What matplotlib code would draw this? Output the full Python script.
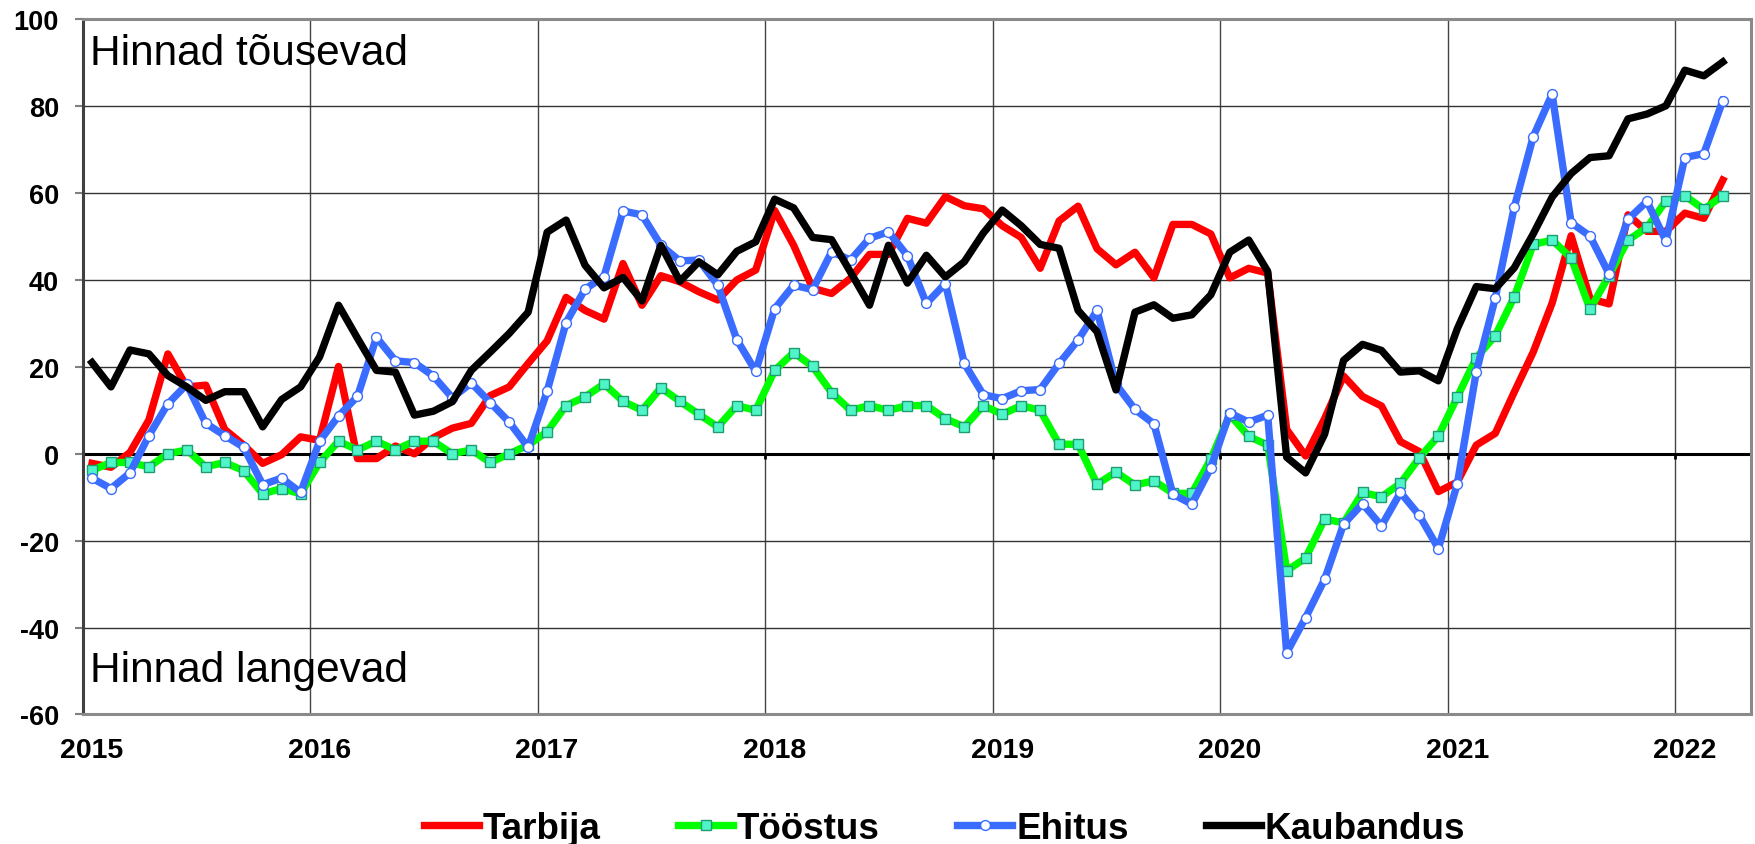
import numpy as np
import matplotlib
matplotlib.use("Agg")
import matplotlib.pyplot as plt

plt.rcParams['font.family'] = ['Liberation Sans', 'DejaVu Sans']
plt.rcParams['axes.unicode_minus'] = False

# monthly values, Jan 2015 - Mar 2022
tarbija = [-2.2, -3.1, 0.3, 7.8, 23, 15.4, 15.8, 5.6, 2, -2.2, -0.2, 3.9,
           3.1, 20.1, -1.1, -1.1, 1.8, 0, 3.7, 5.9, 7, 13.4, 15.4, 20.8,
           26, 36, 33, 31, 43.8, 34.2, 41, 39.6, 37.3, 35.4, 40, 42.3,
           56, 48, 38.1, 36.9, 40.4, 45.9, 45.9, 54.2, 53.1, 59.2, 57.1, 56.4,
           52.5, 49.8, 42.7, 53.6, 57, 47.2, 43.5, 46.4, 40.5, 52.8, 52.8, 50.6,
           40.5, 42.7, 41.6, 5.6, -0.5, 8.1, 17.9, 13.2, 11, 2.8, 0.5, -8.7,
           -6.5, 2, 4.7, 14.2, 23.4, 34.7, 50.2, 35.7, 34.5, 55, 51.2, 51.2,
           55.4, 54.2, 63]

toostus = [-3.8, -2, -2, -3, 0, 0.9, -3, -2, -3.9, -9.2, -8, -9.2,
           -2, 2.9, 0.9, 2.9, 0.9, 2.9, 2.9, 0, 0.9, -2, 0, 2,
           5.1, 11.1, 13.1, 16.1, 12.1, 10, 15.2, 12.1, 9.1, 6.2, 11.1, 10,
           19.2, 23.3, 20.1, 14.1, 10, 11.1, 10, 11.1, 11.1, 8.1, 6.2, 11.1,
           9.1, 11.1, 10, 2.2, 2.2, -7, -4.2, -7.2, -6.2, -9.1, -9.1, -1.2,
           9, 4, 2, -26.9, -24, -15, -15.9, -8.9, -9.9, -6.8, -0.9, 4.1,
           13.1, 22.1, 27.2, 36.1, 48.2, 49.2, 45.1, 33.3, 41, 49.2, 52.1, 58.2,
           59.4, 56.3, 59.4]

ehitus = [-5.6, -8, -4.4, 4.2, 11.5, 16, 7, 4.2, 1.5, -7.1, -5.6, -8.9,
          2.9, 8.7, 13.2, 26.8, 21.4, 21, 17.9, 12.9, 16.3, 11.8, 7.3, 1.5,
          14.4, 30.2, 37.9, 40.8, 55.9, 55, 48, 44.4, 44.6, 38.8, 26.3, 19,
          33.4, 38.8, 37.8, 46.5, 44.6, 49.6, 51.1, 45.6, 34.6, 39.2, 20.8, 13.6,
          12.7, 14.5, 14.8, 20.8, 26.2, 33, 16, 10.2, 6.9, -9.3, -11.6, -3.2,
          9.4, 7.3, 8.9, -45.8, -37.7, -28.9, -16.2, -11.5, -16.6, -8.9, -14.2, -21.8,
          -6.9, 18.9, 35.8, 56.7, 73, 82.8, 53.2, 50.1, 41.4, 54, 58.1, 49,
          68.2, 69.1, 81.3]

kaubandus = [21, 15.4, 23.9, 23, 18, 15.4, 12.3, 14.3, 14.3, 6.2, 12.5, 15.4,
             22.3, 34.2, 26.6, 19.2, 18.8, 8.9, 9.8, 12, 19.2, 23.4, 27.7, 32.6,
             51, 53.8, 43.4, 38.2, 40.6, 35.2, 48, 39.7, 44.2, 41.2, 46.6, 48.8,
             58.6, 56.6, 49.8, 49.3, 41.8, 34.2, 48, 39.3, 45.7, 40.7, 44.2, 50.8,
             56.1, 52.5, 48.2, 47.3, 33, 28.1, 14.7, 32.6, 34.3, 31.2, 32, 36.6,
             46.4, 49.2, 42, -0.8, -4.4, 4.5, 21.5, 25.2, 23.8, 18.8, 19.1, 16.8,
             28.8, 38.5, 38, 42.8, 50.6, 59.1, 64.5, 68.2, 68.6, 77.1, 78.2, 80.1,
             88.3, 87, 90.2]

years = ['2015', '2016', '2017', '2018', '2019', '2020', '2021', '2022']

x = np.arange(len(tarbija))
year_pos = np.arange(len(years)) * 12
bounds = year_pos[1:] - 0.5

fig = plt.figure(figsize=(17.56, 8.45), dpi=100)
ax = fig.add_axes([0.047, 0.1533, 0.9503, 0.8226])

ax.set_xlim(-0.5, 87.5)
ax.set_ylim(-60, 100)

ax.set_yticks(range(-60, 101, 20))
ax.set_xticks(year_pos)
ax.set_xticklabels(years)
ax.set_xticks(bounds, minor=True)
ax.grid(axis='y', which='major', color='#333333', lw=1)
ax.grid(axis='x', which='minor', color='#444444', lw=1)
ax.set_axisbelow(True)
ax.tick_params(axis='x', which='both', length=0, pad=16)
ax.tick_params(axis='y', length=6, width=1.5, color='#808080', pad=11)
for lab in ax.get_yticklabels():
    lab.set_fontsize(19.5)
    lab.set_fontweight('bold')
for lab in ax.get_xticklabels():
    lab.set_fontsize(20.5)
    lab.set_fontweight('bold')

for s in ax.spines.values():
    s.set_color('#8a8a8a')
    s.set_linewidth(2.2)
ax.spines['left'].set_color('#404040')

ax.axhline(0, color='black', lw=2.2, zorder=1.5)
ax.vlines(bounds, -1.3, 0, color='black', lw=2, zorder=1.5)

lw = 5.3
ax.plot(x, tarbija, color='#ff0000', lw=lw, label='Tarbija', zorder=3)
ax.plot(x, toostus, color='#00ff00', lw=lw, marker='s', ms=7.4,
        mfc='#4ff5c8', mec='#1e9e70', mew=1, label='Tööstus', zorder=4)
ax.plot(x, ehitus, color='#3a6cff', lw=lw, marker='o', ms=7.1,
        mfc='white', mec='#3a6cff', mew=1, label='Ehitus', zorder=5)
ax.plot(x, kaubandus, color='black', lw=lw, label='Kaubandus', zorder=6)

ax.text(0.0045, 0.936, 'Hinnad tõusevad', transform=ax.transAxes,
        fontsize=30.5, va='baseline', ha='left')
ax.text(0.0045, 0.0475, 'Hinnad langevad', transform=ax.transAxes,
        fontsize=30.5, va='baseline', ha='left')

fig.legend(loc='lower center', bbox_to_anchor=(0.538, -0.042), ncol=4,
           frameon=False, prop={'weight': 'bold', 'size': 26.5},
           handlelength=1.5, handletextpad=0.1, columnspacing=2.1)

fig.savefig('out.png', dpi=100)
